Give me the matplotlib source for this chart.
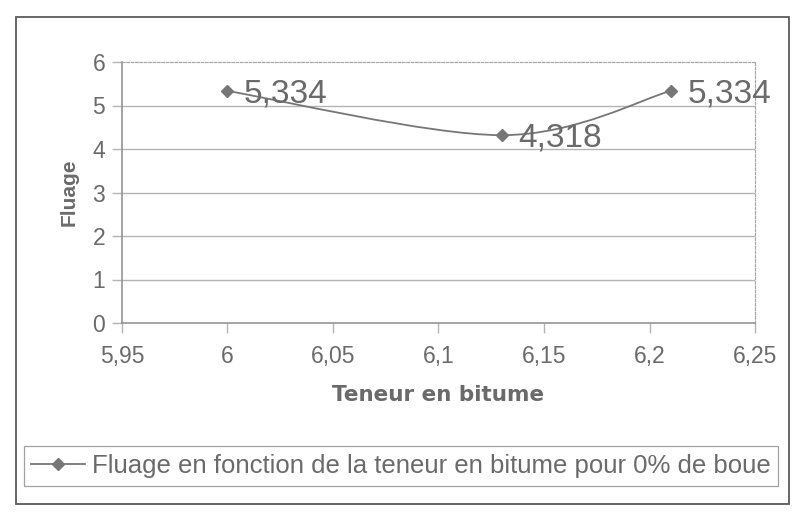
import matplotlib
matplotlib.use("Agg")
import matplotlib.pyplot as plt
from matplotlib.path import Path
from matplotlib.patches import PathPatch, Rectangle
from matplotlib.lines import Line2D
import numpy as np

# Data
teneur = [6.0, 6.13, 6.21]
fluage = [5.334, 4.318, 5.334]
x_ticks = [5.95, 6.0, 6.05, 6.1, 6.15, 6.2, 6.25]
x_tick_labels = ["5,95", "6", "6,05", "6,1", "6,15", "6,2", "6,25"]
y_ticks = [0, 1, 2, 3, 4, 5, 6]
series_label = "Fluage en fonction de la teneur en bitume pour 0% de boue"
x_title = "Teneur en bitume"
y_title = "Fluage"

plt.rcParams['font.family'] = ['Liberation Sans', 'DejaVu Sans']

W, H = 795, 514
text_c = '#6a6a6a'
line_c = '#767676'
grid_c = '#b4b4b4'

fig = plt.figure(figsize=(W / 100, H / 100), dpi=100)
fig.patch.set_facecolor('white')

# chart frame
fig.add_artist(Rectangle((16 / W, 1 - 504 / H), (789 - 16) / W, (504 - 17) / H,
                         transform=fig.transFigure, fill=False,
                         ec='#5a5a5a', lw=1.3))

ax = fig.add_axes([122 / W, 1 - 323 / H, (755 - 122) / W, (323 - 62) / H])
ax.set_xlim(5.95, 6.25)
ax.set_ylim(0, 6)
ax.set_xticks(x_ticks)
ax.set_xticklabels(x_tick_labels)
ax.set_yticks(y_ticks)
ax.tick_params(axis='both', colors=grid_c, labelcolor=text_c, labelsize=16.5,
               length=7, width=1, direction='out')
ax.tick_params(axis='x', pad=9)
ax.tick_params(axis='y', pad=5)

for s in ('left', 'bottom'):
    ax.spines[s].set_color('#8c8c8c')
    ax.spines[s].set_linewidth(1.1)
for s in ('top', 'right'):
    ax.spines[s].set_color('#a8a8a8')
    ax.spines[s].set_linewidth(0.9)
    ax.spines[s].set_linestyle((0, (2, 1.5)))

for yv in y_ticks[1:-1]:
    ax.axhline(yv, color=grid_c, lw=1.0, zorder=1)

# smoothed line through the points (cubic Bezier segments)
pts = np.column_stack([teneur, fluage])
n = len(pts)
verts = [pts[0]]
codes = [Path.MOVETO]
for i in range(n - 1):
    p0 = pts[i - 1] if i > 0 else pts[i]
    p1 = pts[i]
    p2 = pts[i + 1]
    p3 = pts[i + 2] if i + 2 < n else pts[i + 1]
    verts += [p1 + (p2 - p0) / 6, p2 - (p3 - p1) / 6, p2]
    codes += [Path.CURVE4] * 3
ax.add_patch(PathPatch(Path(verts, codes), fill=False, ec=line_c, lw=1.3, zorder=3))
ax.plot(teneur, fluage, ls='none', marker='D', ms=6.5, color=line_c, zorder=4)

for xv, yv in zip(teneur, fluage):
    ax.annotate(f"{yv:.3f}".replace('.', ','), (xv, yv), xytext=(12, -2),
                textcoords='offset points', ha='left', va='center',
                fontsize=24, color=text_c, zorder=5)

ax.set_ylabel(y_title, fontsize=15, fontweight='bold', color=text_c, labelpad=10)
ax.set_xlabel(x_title, fontsize=15.5, fontweight='bold', color=text_c, labelpad=12,
              family='DejaVu Sans')

handle = Line2D([], [], color=line_c, lw=1.3, marker='D', ms=6.5)
leg = fig.legend([handle], [series_label], loc='center',
                 bbox_to_anchor=(401 / W, 1 - 466 / H), fontsize=18.5,
                 frameon=True, fancybox=False, handlelength=2.1,
                 handletextpad=0.25, borderpad=0.3, labelcolor=text_c)
leg.get_frame().set_edgecolor('#8a8a8a')
leg.get_frame().set_linewidth(0.9)

fig.savefig('out.png', dpi=100, facecolor='white')
